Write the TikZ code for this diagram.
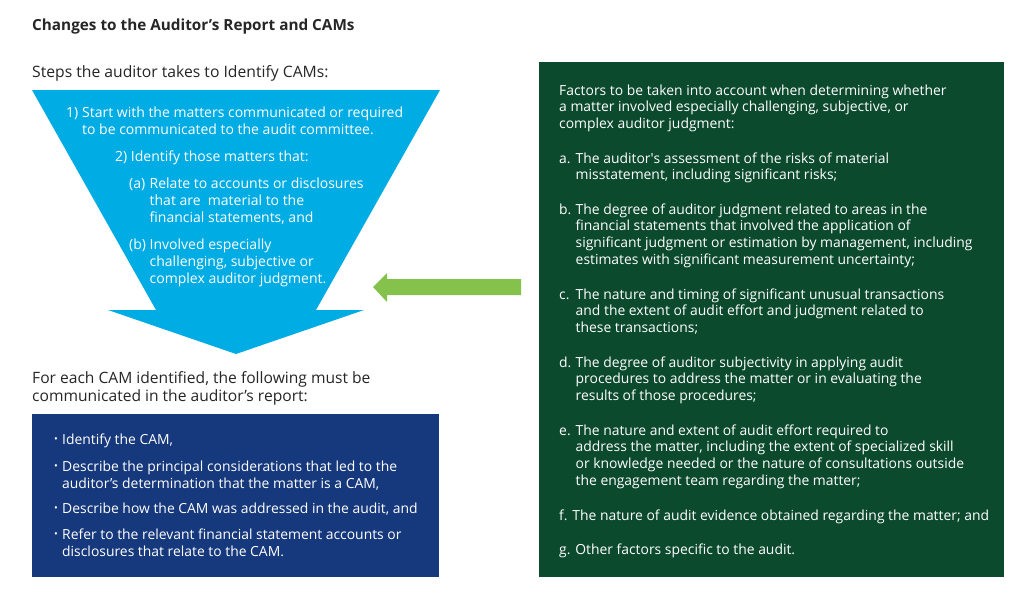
\documentclass[tikz,border=0pt]{standalone}
\usepackage{fontspec}
\setmainfont{Open Sans}
\definecolor{cyanblue}{RGB}{0,172,228}
\definecolor{navyblue}{RGB}{22,56,124}
\definecolor{forest}{RGB}{12,74,46}
\definecolor{leaf}{RGB}{132,194,76}
\definecolor{headtext}{RGB}{38,38,38}
\newcommand\smalldot{\raisebox{0.25ex}{\fontsize{10}{10}\selectfont •}}
\begin{document}
\begin{tikzpicture}[x=1pt,y=-1pt,
  tribody/.style={anchor=north west, inner sep=0pt, align=left, text=white, font=\fontsize{14}{17}\selectfont},
  grbody/.style={anchor=north west, inner sep=0pt, align=left, text=white, font=\fontsize{13.9}{16.8}\selectfont},
  bubody/.style={anchor=north west, inner sep=0pt, align=left, text=white, font=\fontsize{13.9}{17}\selectfont},
  darktext/.style={anchor=north west, inner sep=0pt, align=left, text=headtext, font=\fontsize{15.6}{18.5}\selectfont},
  panel/.style={anchor=north west, inner sep=0pt, draw=none}]
\useasboundingbox (0,0) rectangle (1024,603);
\fill[white] (0,0) rectangle (1024,603);

% title and subtitle
\node[anchor=base west, inner sep=0pt, text=headtext, font=\bfseries\fontsize{15.3}{18}\selectfont] (title) at (32,30) {Changes to the Auditor’s Report and CAMs};
\node[anchor=base west, inner sep=0pt, text=headtext, font=\fontsize{15.7}{18}\selectfont] (steps) at (32,77) {Steps the auditor takes to Identify CAMs:};

% funnel arrow
\fill[cyanblue] (32,90) -- (440,90) -- (316,310) -- (364,310) -- (236,354) -- (108,310) -- (156,310) -- cycle;
\coordinate (funnelside) at (373,287);

\node[tribody] (s1) at (66,105.1) {\strut\makebox[16pt][l]{1)}Start with the matters communicated or required\\\hspace*{16pt}to be communicated to the audit committee.};
\node[tribody] (s2) at (115,149.1) {\strut 2) Identify those matters that:};
\node[tribody] (sa) at (129,176.1) {\strut\makebox[20.5pt][l]{(a)}Relate to accounts or disclosures\\\hspace*{20.5pt}that are\ \ material to the\\\hspace*{20.5pt}financial statements, and};
\node[tribody] (sb) at (129,237.1) {\strut\makebox[20.5pt][l]{(b)}Involved especially\\\hspace*{20.5pt}challenging, subjective or\\\hspace*{20.5pt}complex auditor judgment.};

% lower-left heading and blue box
\node[darktext] (foreach) at (32,370) {\strut For each CAM identified, the following must be\\communicated in the auditor’s report:};
\node[panel, fill=navyblue, minimum width=407pt, minimum height=163pt] (cambox) at (32,414) {};
\node[bubody] (b1) at (54,432.1) {\strut\makebox[8pt][l]{\smalldot}Identify the CAM,};
\node[bubody] (b2) at (54,459.1) {\strut\makebox[8pt][l]{\smalldot}Describe the principal considerations that led to the\\\hspace*{8pt}auditor’s determination that the matter is a CAM,};
\node[bubody] (b3) at (54,501.1) {\strut\makebox[8pt][l]{\smalldot}Describe how the CAM was addressed in the audit, and};
\node[bubody] (b4) at (54,527.1) {\strut\makebox[8pt][l]{\smalldot}Refer to the relevant financial statement accounts or\\\hspace*{8pt}disclosures that relate to the CAM.};

% green box
\node[panel, fill=forest, minimum width=465pt, minimum height=515pt] (factorbox) at (539,62) {};
\node[grbody] (intro) at (559,83.2) {\strut Factors to be taken into account when determining whether\\a matter involved especially challenging, subjective, or\\complex auditor judgment:};
\node[grbody] (fa) at (559,151.2) {\strut\makebox[16.5pt][l]{a.}The auditor\textquotesingle s assessment of the risks of material\\\hspace*{16.5pt}misstatement, including significant risks;};
\node[grbody] (fb) at (559,202.2) {\strut\makebox[16.5pt][l]{b.}The degree of auditor judgment related to areas in the\\\hspace*{16.5pt}financial statements that involved the application of\\\hspace*{16.5pt}significant judgment or estimation by management, including\\\hspace*{16.5pt}estimates with significant measurement uncertainty;};
\node[grbody] (fc) at (559,287.2) {\strut\makebox[16.5pt][l]{c.}The nature and timing of significant unusual transactions\\\hspace*{16.5pt}and the extent of audit effort and judgment related to\\\hspace*{16.5pt}these transactions;};
\node[grbody] (fd) at (559,355.2) {\strut\makebox[16.5pt][l]{d.}The degree of auditor subjectivity in applying audit\\\hspace*{16.5pt}procedures to address the matter or in evaluating the\\\hspace*{16.5pt}results of those procedures;};
\node[grbody] (fe) at (559,423.2) {\strut\makebox[16.5pt][l]{e.}The nature and extent of audit effort required to\\\hspace*{16.5pt}address the matter, including the extent of specialized skill\\\hspace*{16.5pt}or knowledge needed or the nature of consultations outside\\\hspace*{16.5pt}the engagement team regarding the matter;};
\node[grbody] (ff) at (559,508.2) {\strut f. The nature of audit evidence obtained regarding the matter; and};
\node[grbody] (fg) at (559,542.2) {\strut g. Other factors specific to the audit.};

% green block arrow from factors box toward funnel
\fill[leaf] (521,279) -- (387,279) -- (387,273) -- (funnelside) -- (387,302) -- (387,295) -- (521,295) -- cycle;
\end{tikzpicture}
\end{document}
